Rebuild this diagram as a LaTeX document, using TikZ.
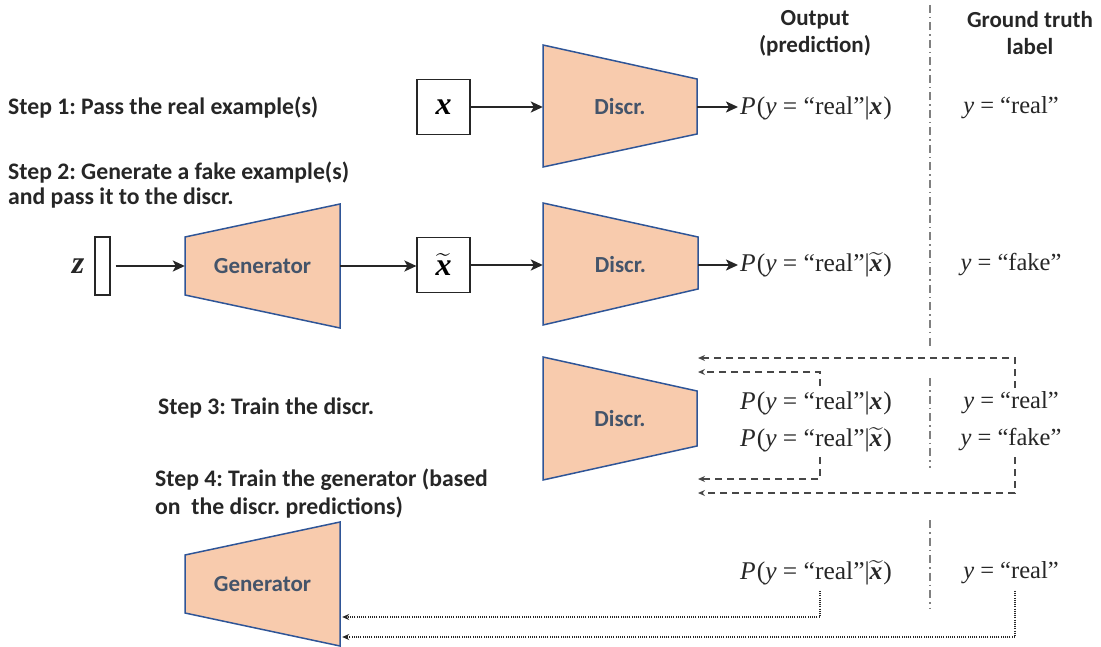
\documentclass[tikz,border=0pt]{standalone}
\usepackage{amsmath}
\usepackage{fontspec}
\newfontfamily\lbl{Carlito}
\newfontfamily\cam{Liberation Serif}
\usetikzlibrary{arrows.meta}
\definecolor{shfill}{HTML}{F8CBAD}
\definecolor{shedge}{HTML}{2F5597}
\definecolor{shtext}{HTML}{44546A}
\definecolor{ln}{HTML}{262626}
\definecolor{divc}{HTML}{808080}
\newcommand\vx{\textbf{\textit{x}}}
\newcommand\vxt{$\widetilde{\mbox{\vx}}$}
\newcommand\vz{\textbf{\textit{z}}}
\newcommand\probreal[1]{\textit{P}\kern1pt(\textit{y} = “real”|#1\kern1pt)}
\newcommand\ylab[1]{\textit{y} = “#1”}
\begin{document}
\frenchspacing
\begin{tikzpicture}[x=1pt,y=-1pt,
  steptext/.style={font=\lbl\bfseries\fontsize{23.7}{25}\selectfont, anchor=west, align=left, inner sep=0, text=ln},
  head/.style={font=\lbl\bfseries\fontsize{23}{27}\selectfont, align=center, inner sep=0, text=ln},
  shapelbl/.style={font=\lbl\bfseries\fontsize{23}{27}\selectfont, text=shtext, minimum width=155pt, inner sep=0},
  trap/.style={fill=shfill, draw=shedge, line width=1.5pt, line join=miter},
  mth/.style={font=\cam\fontsize{25.5}{28}\selectfont, inner sep=0, text=ln},
  ymth/.style={font=\cam\fontsize{24.5}{28}\selectfont, inner sep=0, text=ln},
  big/.style={font=\cam\fontsize{32}{34}\selectfont, inner sep=0, text=ln},
  box/.style={draw=ln, line width=1.2pt, fill=white, minimum width=53pt, minimum height=55pt, inner sep=0, font=\cam\fontsize{32}{34}\selectfont},
  arr/.style={draw=ln, line width=2pt, -{Stealth[length=12pt,width=11pt,inset=3pt]}},
  dsh/.style={draw=ln!85, line width=1.6pt, dash pattern=on 7pt off 5pt, -{Stealth[length=7pt,width=6pt]}},
  dtt/.style={draw=ln, line width=1.6pt, dash pattern=on 1pt off 1.2pt, -{Stealth[length=7pt,width=6pt]}},
  divider/.style={draw=divc, line width=1.6pt, dash pattern=on 8pt off 4pt on 1.5pt off 4pt}
]
\useasboundingbox (0,0) rectangle (1101,647);

% divider
\draw[divider] (930,5) -- (930,348);
\draw[divider] (930,378) -- (930,468);
\draw[divider] (930,520) -- (930,608);

% headers
\node[head] (hout) at (815,33) {Output\\(prediction)};
\node[head] (hgt) at (1030,33) {Ground truth\\label};

% step texts
\node[steptext] (s1) at (8,108) {Step 1: Pass the real example(s)};
\node[steptext] (s2) at (8,185) {Step 2: Generate a fake example(s)\\and pass it to the discr.};
\node[steptext] (s3) at (158,408) {Step 3: Train the discr.};
\node[steptext, font=\lbl\bfseries\fontsize{23.7}{28}\selectfont] (s4) at (155,494) {Step 4: Train the generator (based\\on\ \ the discr.\ predictions)};

% ---- Row 1
\node[box] (xb) at (443.5,107) {\vx};
\draw[trap] (543,45) -- (697,79) -- (697,134) -- (543,167) -- cycle;
\node[shapelbl, minimum width=154pt] (d1) at (620,107) {Discr.};
\node[mth, anchor=west] (p1) at (740,108) {\probreal{\vx}};
\node[ymth] (y1) at (1011,108) {\ylab{real}};
\draw[arr] (xb.east) -- (d1.west);
\draw[arr, shorten >=2pt] (d1.east) -- (p1.west |- d1.east);

% ---- Row 2
\node[big] (zl) at (78,266) {\vz};
\node[draw=ln, line width=1.2pt, minimum width=15pt, minimum height=58pt, inner sep=0] (zb) at (102.5,266) {};
\draw[trap] (185,237) -- (340,204) -- (340,328) -- (185,295) -- cycle;
\node[shapelbl] (g2) at (262.5,266) {Generator};
\node[box] (xt) at (443.5,265) {\vxt};
\draw[trap] (543,203) -- (698,237) -- (698,289) -- (543,325) -- cycle;
\node[shapelbl] (d2) at (620.5,265) {Discr.};
\node[mth, anchor=west] (p2) at (740,265) {\probreal{\vxt}};
\node[ymth] (y2) at (1011,265) {\ylab{fake}};
\draw[arr, shorten <=5pt] (zb.east |- g2.west) -- (g2.west);
\draw[arr] (g2.east) -- (xt.west |- g2.east);
\draw[arr] (xt.east) -- (d2.west);
\draw[arr, shorten >=2pt] (d2.east) -- (p2.west |- d2.east);

% ---- Row 3
\draw[trap] (543,357) -- (697,391) -- (697,446) -- (543,480) -- cycle;
\node[shapelbl, minimum width=154pt] (d3) at (620,418.5) {Discr.};
\node[mth, anchor=west] (p3a) at (740,403) {\probreal{\vx}};
\node[mth, anchor=west] (p3b) at (740,440) {\probreal{\vxt}};
\node[ymth] (y3a) at (1011,403) {\ylab{real}};
\node[ymth] (y3b) at (1011,440) {\ylab{fake}};
\coordinate (oa) at (1015,388);
\coordinate (ia) at (820,386);
\coordinate (ib) at (820,457);
\coordinate (ob) at (1015,457);
\coordinate (t1) at (698,358);
\coordinate (t2) at (698,372);
\coordinate (b1) at (698,479);
\coordinate (b2) at (698,493);
\draw[dsh] (oa) |- (t1);
\draw[dsh] (ia) |- (t2);
\draw[dsh] (ib) |- (b1);
\draw[dsh] (ob) |- (b2);

% ---- Row 4
\draw[trap] (185,555) -- (340,522) -- (340,646) -- (185,613) -- cycle;
\node[shapelbl] (g4) at (262.5,584) {Generator};
\node[mth, anchor=west] (p4) at (740,573) {\probreal{\vxt}};
\node[ymth] (y4) at (1011,573) {\ylab{real}};
\coordinate (pa) at (820,591);
\coordinate (qa) at (1015,591);
\draw[dtt] (pa) |- ([xshift=2pt]g4.east |- 0,617);
\draw[dtt] (qa) |- ([xshift=2pt]g4.east |- 0,637);
\end{tikzpicture}
\end{document}
